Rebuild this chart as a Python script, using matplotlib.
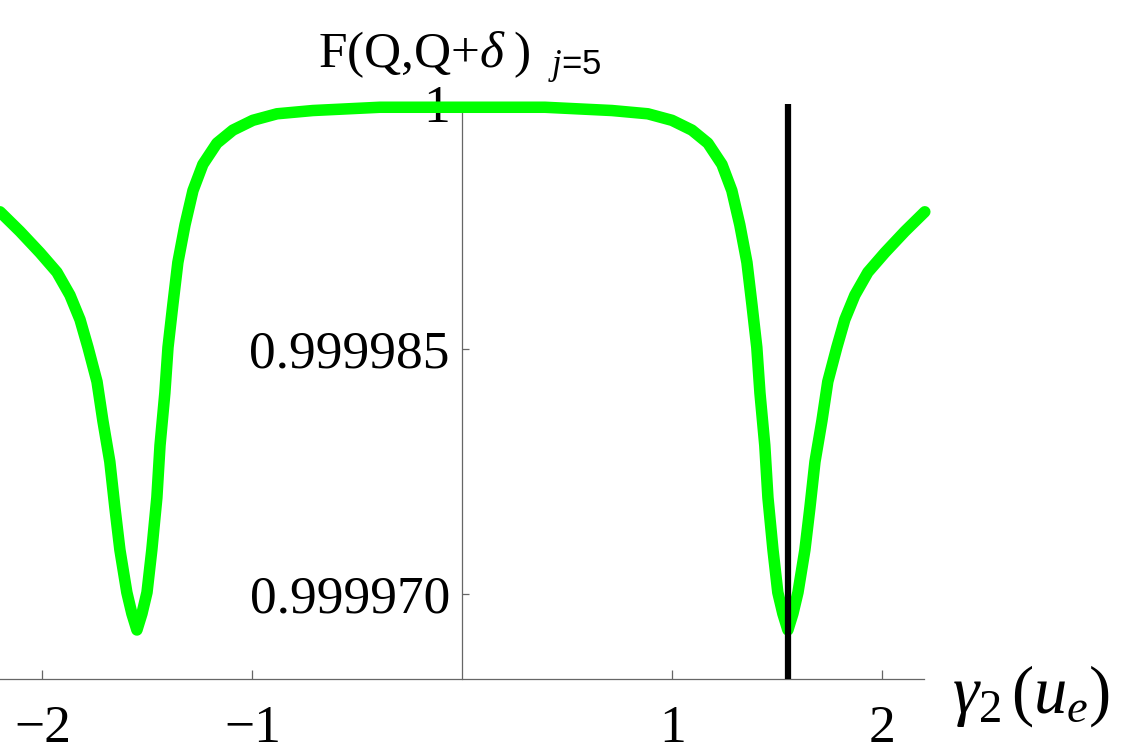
import matplotlib
matplotlib.use("Agg")
import matplotlib.pyplot as plt

plt.rcParams['font.family'] = ['Liberation Serif', 'DejaVu Serif']
plt.rcParams['mathtext.fontset'] = 'custom'
plt.rcParams['mathtext.rm'] = 'Liberation Serif'
plt.rcParams['mathtext.it'] = 'Liberation Serif:italic'

# curve (gamma_2(u_e), F)
gamma = [-2.202, -2.107, -2.012, -1.931, -1.869, -1.821, -1.783, -1.740, -1.712,
         -1.679, -1.655, -1.631, -1.598, -1.574, -1.550, -1.526, -1.502, -1.479,
         -1.455, -1.440, -1.417, -1.402, -1.379, -1.355, -1.321, -1.283, -1.236,
         -1.169, -1.093, -0.998, -0.883, -0.712, -0.393, 0.0,
         0.393, 0.712, 0.883, 0.998, 1.093, 1.169, 1.236, 1.283, 1.321, 1.355,
         1.379, 1.402, 1.417, 1.440, 1.455, 1.479, 1.502, 1.526, 1.550, 1.574,
         1.598, 1.631, 1.655, 1.679, 1.712, 1.740, 1.783, 1.821, 1.869, 1.931,
         2.012, 2.107, 2.202]
fid = [0.9999934, 0.9999922, 0.9999909, 0.9999897, 0.9999883, 0.9999868, 0.9999851,
       0.9999830, 0.9999806, 0.9999781, 0.9999753, 0.9999727, 0.9999701, 0.9999688,
       0.9999678, 0.9999688, 0.9999701, 0.9999727, 0.9999759, 0.9999791, 0.9999823,
       0.9999851, 0.9999877, 0.9999903, 0.9999926, 0.9999947, 0.9999963, 0.9999976,
       0.9999984, 0.9999990, 0.9999994, 0.9999996, 0.9999998, 0.9999998,
       0.9999998, 0.9999996, 0.9999994, 0.9999990, 0.9999984, 0.9999976, 0.9999963,
       0.9999947, 0.9999926, 0.9999903, 0.9999877, 0.9999851, 0.9999823, 0.9999791,
       0.9999759, 0.9999727, 0.9999701, 0.9999688, 0.9999678, 0.9999688, 0.9999701,
       0.9999727, 0.9999753, 0.9999781, 0.9999806, 0.9999830, 0.9999851, 0.9999868,
       0.9999883, 0.9999897, 0.9999909, 0.9999922, 0.9999934]

marker_x = 1.55
xticks = [-2, -1, 1, 2]
xlabels = ['\u22122', '\u22121', '1', '2']
yticks = [0.999970, 0.999985, 1.0]
ylabels = ['0.999970', '0.999985', '1']

fig = plt.figure(figsize=(11.25, 7.53), dpi=100)
ax = fig.add_axes([0, 0.0983, 0.8213, 0.7636])
ax.set_xlim(-2.202, 2.198)
ax.set_ylim(0.9999648, 1.0)

ax.plot(gamma, fid, color='#00ff00', lw=8.3, solid_capstyle='round',
        solid_joinstyle='round', clip_on=False, zorder=3)
ax.plot([marker_x, marker_x], [0.9999648, 1.0], color='black', lw=4.5, zorder=4)

for s in ['top', 'right']:
    ax.spines[s].set_visible(False)
ax.spines['left'].set_position(('data', 0))
for s in ['left', 'bottom']:
    ax.spines[s].set_color('#666666')
    ax.spines[s].set_linewidth(0.9)

ax.set_xticks(xticks, xlabels)
ax.set_yticks(yticks, ylabels)
ax.tick_params(axis='both', direction='in', color='#666666', width=0.9,
               labelsize=38.5)
ax.tick_params(axis='x', length=6.5, pad=19)
ax.tick_params(axis='y', length=5, pad=9)
ax.patch.set_visible(False)

fig.text(318 / 1125, 1 - 67 / 753, 'F(Q,Q+$\\delta$\u2009)', fontsize=37,
         ha='left', va='baseline')
fig.text(548 / 1125, 1 - 74 / 753, '$j$=5', fontsize=25,
         family='Liberation Sans', ha='left', va='baseline')
fig.text(952 / 1125, 1 - 713 / 753, '$\\gamma_2\\,(u_e)$', fontsize=48,
         ha='left', va='baseline')

plt.savefig('out.png', dpi=100)
